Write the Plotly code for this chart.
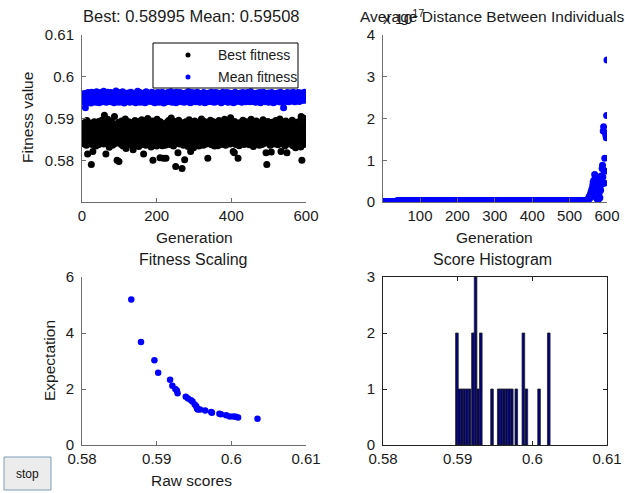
import plotly.graph_objects as go

W, H = 625, 493
FONT = "Liberation Sans, Arial, sans-serif"
TXT = "#1a1a1a"
AX = "#6e6e6e"

# ---------------- data ----------------
generations = list(range(1, 601))

# best fitness per generation (x 1e-4)
best_fitness_e4 = [
 5885,5862,5848,5871,5839,5856,5890,5843,5867,5878,5851,5836,5895,5860,5815,5874,5846,5883,5858,5869,
 5841,5889,5853,5877,5790,5866,5838,5881,5821,5857,5870,5845,5892,5863,5849,5876,5834,5887,5859,5872,
 5847,5880,5865,5837,5893,5855,5868,5842,5884,5861,5875,5850,5896,5844,5873,5858,5882,5839,5866,5908,
 5854,5879,5843,5815,5870,5886,5852,5863,5898,5840,5874,5857,5831,5889,5866,5848,5877,5860,5893,5845,
 5869,5836,5882,5855,5871,5849,5905,5862,5840,5878,5853,5887,5866,5800,5844,5875,5859,5891,5797,5868,
 5846,5883,5857,5872,5838,5894,5861,5850,5880,5834,5867,5888,5853,5876,5843,5899,5863,5828,5873,5856,
 5885,5847,5870,5839,5892,5860,5876,5851,5883,5837,5866,5890,5854,5879,5842,5869,5825,5886,5858,5874,
 5848,5895,5862,5835,5880,5856,5871,5844,5887,5859,5877,5833,5868,5893,5850,5882,5841,5875,5863,5897,
 5852,5870,5838,5884,5815,5866,5891,5846,5878,5857,5836,5889,5861,5873,5843,5900,5855,5881,5849,5868,
 5877,5840,5886,5859,5832,5872,5853,5894,5845,5800,5864,5880,5837,5869,5851,5888,5843,5876,5862,5834,
 5898,5855,5871,5847,5883,5860,5839,5875,5806,5892,5852,5867,5844,5885,5835,5878,5857,5805,5870,5849,
 5887,5863,5836,5874,5805,5890,5852,5868,5841,5881,5859,5895,5846,5872,5838,5884,5854,5866,5901,5843,
 5877,5850,5888,5862,5834,5870,5856,5893,5845,5879,5785,5860,5840,5886,5853,5873,5818,5864,5896,5848,
 5871,5839,5883,5857,5867,5843,5890,5780,5876,5852,5885,5836,5862,5878,5801,5869,5846,5892,5855,5874,
 5841,5887,5860,5833,5880,5851,5897,5866,5844,5875,5821,5858,5889,5837,5871,5848,5884,5863,5830,5877,
 5853,5894,5842,5868,5885,5838,5873,5856,5891,5847,5879,5861,5834,5888,5850,5870,5843,5882,5865,5899,
 5846,5874,5857,5887,5836,5869,5852,5893,5841,5878,5862,5883,5839,5871,5855,5890,5805,5866,5848,5876,
 5886,5843,5863,5896,5851,5873,5837,5881,5858,5868,5845,5892,5860,5877,5834,5884,5854,5870,5840,5889,
 5865,5849,5880,5835,5874,5857,5895,5843,5869,5852,5886,5861,5838,5878,5847,5891,5859,5872,5842,5883,
 5856,5898,5845,5867,5836,5881,5853,5875,5864,5890,5841,5870,5849,5887,5858,5873,5839,5902,5855,5868,
 5844,5879,5861,5885,5821,5851,5876,5818,5893,5847,5866,5838,5882,5857,5871,5843,5888,5805,5862,5874,
 5835,5890,5854,5869,5847,5884,5860,5841,5877,5856,5896,5849,5872,5838,5886,5863,5851,5880,5845,5868,
 5892,5857,5874,5840,5883,5852,5866,5837,5889,5861,5876,5848,5898,5855,5870,5843,5885,5859,5833,5879,
 5850,5887,5864,5842,5873,5856,5894,5839,5881,5862,5847,5875,5853,5890,5836,5868,5858,5884,5844,5871,
 5865,5838,5882,5854,5897,5846,5877,5860,5888,5841,5869,5852,5818,5885,5790,5874,5857,5893,5843,5866,
 5880,5849,5871,5836,5886,5858,5820,5875,5845,5891,5862,5853,5878,5839,5884,5856,5869,5842,5895,5861,
 5848,5876,5855,5889,5837,5870,5863,5883,5844,5899,5852,5867,5821,5879,5858,5892,5841,5873,5857,5886,
 5845,5868,5834,5881,5860,5894,5849,5874,5818,5863,5887,5851,5877,5839,5890,5856,5870,5843,5884,5862,
 5876,5847,5896,5858,5835,5882,5867,5853,5888,5844,5873,5830,5861,5891,5850,5879,5838,5885,5857,5868,
 5842,5893,5864,5848,5878,5832,5905,5855,5800,5871,5902,5845,5883,5860,5838,5869,5852,5887,5899,5899.5,
]

# mean fitness per generation (x 1e-4)
mean_fitness_e4 = [
 5951,5944,5957,5939,5948,5960,5943,5953,5926,5947,5955,5941,5958,5949,5945,5962,5938,5952,5946,5956,
 5942,5959,5950,5937,5954,5963,5945,5948,5957,5940,5953,5946,5961,5943,5951,5956,5939,5949,5964,5944,
 5955,5947,5941,5960,5952,5938,5957,5945,5950,5962,5943,5954,5948,5959,5940,5953,5946,5965,5942,5951,
 5957,5944,5949,5961,5939,5955,5947,5952,5963,5941,5950,5958,5945,5943,5956,5948,5962,5940,5953,5946,
 5959,5942,5951,5944,5960,5938,5954,5949,5957,5945,5966,5941,5952,5947,5955,5943,5961,5950,5939,5956,
 5948,5962,5944,5953,5940,5958,5946,5951,5964,5942,5955,5949,5937,5957,5945,5952,5960,5943,5950,5956,
 5941,5954,5947,5961,5944,5950,5958,5939,5953,5946,5963,5942,5955,5948,5957,5940,5952,5945,5959,5949,
 5944,5956,5951,5938,5960,5947,5953,5943,5965,5950,5941,5957,5946,5954,5962,5939,5949,5955,5945,5958,
 5952,5940,5959,5947,5954,5943,5961,5950,5938,5956,5945,5964,5948,5953,5941,5957,5951,5944,5960,5946,
 5955,5949,5942,5958,5945,5952,5963,5940,5954,5947,5959,5943,5951,5956,5938,5950,5961,5946,5953,5944,
 5957,5941,5950,5962,5947,5954,5939,5956,5944,5951,5960,5945,5953,5948,5963,5942,5955,5949,5937,5958,
 5946,5953,5960,5943,5950,5957,5940,5955,5948,5962,5944,5952,5959,5941,5956,5947,5954,5964,5945,5951,
 5939,5958,5949,5955,5942,5961,5947,5953,5944,5957,5950,5938,5963,5946,5952,5943,5959,5948,5955,5941,
 5954,5947,5962,5944,5951,5958,5940,5956,5949,5943,5960,5946,5953,5939,5957,5950,5945,5961,5942,5955,
 5948,5959,5943,5952,5964,5941,5956,5947,5954,5938,5958,5950,5945,5962,5944,5953,5940,5957,5949,5946,
 5961,5944,5955,5948,5940,5957,5952,5946,5963,5942,5951,5959,5945,5954,5939,5956,5949,5960,5943,5953,
 5947,5958,5941,5955,5950,5962,5944,5952,5938,5957,5946,5953,5960,5943,5949,5956,5940,5954,5948,5961,
 5945,5951,5959,5942,5956,5948,5963,5940,5953,5946,5958,5944,5950,5957,5939,5955,5947,5962,5943,5952,
 5958,5943,5950,5961,5946,5954,5941,5957,5949,5944,5960,5952,5938,5956,5947,5953,5963,5942,5951,5945,
 5950,5956,5944,5959,5941,5952,5947,5962,5945,5955,5939,5958,5949,5943,5961,5946,5954,5940,5957,5948,
 5943,5960,5952,5946,5955,5938,5958,5949,5944,5963,5951,5941,5956,5947,5953,5959,5942,5950,5957,5945,
 5956,5948,5941,5961,5950,5945,5957,5939,5954,5947,5962,5943,5952,5958,5944,5951,5960,5946,5940,5955,
 5949,5954,5962,5942,5957,5946,5951,5959,5940,5953,5948,5964,5944,5956,5950,5941,5958,5947,5955,5943,
 5960,5945,5953,5948,5939,5957,5950,5943,5961,5946,5954,5941,5958,5949,5944,5962,5952,5938,5956,5947,
 5951,5958,5942,5955,5947,5963,5944,5952,5949,5957,5940,5954,5946,5960,5943,5950,5956,5945,5961,5939,
 5954,5946,5959,5943,5951,5956,5941,5962,5948,5953,5945,5958,5938,5955,5950,5944,5960,5947,5952,5957,
 5942,5955,5949,5961,5946,5952,5958,5940,5956,5944,5951,5963,5947,5954,5939,5957,5950,5945,5959,5926,
 5953,5947,5960,5944,5956,5950,5941,5958,5946,5962,5943,5952,5957,5940,5955,5948,5961,5945,5951,5956,
 5946,5959,5942,5954,5949,5963,5944,5951,5957,5940,5955,5948,5960,5943,5952,5958,5945,5950,5962,5947,
 5955,5941,5958,5950,5945,5961,5948,5953,5943,5960,5952,5946,5957,5949,5954,5963,5944,5956,5959,5950.8,
]

# average distance between individuals (units of 1e17)
dist_gen1_38 = 0.0          # value held over generations 1..38
dist_gen39_545 = 0.03       # value held over generations 39..545
dist_tail_546_600 = [
 0.02,0.04,0.03,0.06,0.05,0.09,0.12,0.08,0.15,0.11,
 0.20,0.14,0.26,0.18,0.32,0.22,0.40,0.48,0.30,0.52,
 0.25,0.66,0.38,0.55,0.44,0.12,0.28,0.08,0.35,0.18,
 0.05,0.30,0.45,0.22,0.38,0.10,0.48,0.28,0.62,0.42,
 0.55,0.80,0.88,0.60,1.70,1.80,0.75,0.45,1.05,0.74,
 1.65,1.60,1.54,2.07,3.40,
]
avg_distance = [dist_gen1_38] * 38 + [dist_gen39_545] * (545 - 38) + dist_tail_546_600

# fitness scaling: raw score vs expectation
raw_scores = [0.5866,0.5879,0.5897,0.5902,0.5918,0.5921,0.5925,0.5927,0.5928,0.5939,0.5942,
              0.5946,0.5948,0.5951,0.5953,0.5954,0.5955,0.5958,0.5965,0.5973,0.5974,0.5984,
              0.5986,0.5993,0.5998,0.6003,0.6006,0.6009,0.6035]
expectation = [5.20,3.68,3.03,2.58,2.33,2.12,2.00,1.95,1.85,1.72,1.66,
               1.60,1.55,1.45,1.38,1.30,1.27,1.27,1.23,1.18,1.15,1.12,
               1.10,1.06,1.02,1.02,1.01,0.98,0.94]

# score histogram (bin centres and counts)
hist_centres = [0.58990,0.59020,0.59055,0.59090,0.59125,0.59160,0.59205,0.59240,0.59275,0.59310,
                0.59460,0.59550,0.59585,0.59620,0.59655,0.59690,0.59725,0.59785,0.59880,0.59920,
                0.60090,0.60220]
hist_counts = [2,1,1,1,1,1,2,3,1,2,
               1,1,1,1,1,1,1,1,2,1,
               1,2]
hist_bin_width = 0.00035

best_title = "Best: 0.58995 Mean: 0.59508"

# ---------------- figure ----------------
def px(v):  # horizontal pixel -> paper
    return v / W
def py(v):  # vertical pixel (from top) -> paper
    return 1 - v / H

fig = go.Figure()

fig.add_trace(go.Scatter(x=generations, y=[v / 1e4 for v in best_fitness_e4], mode="markers",
                         marker=dict(color="black", size=7), name="Best fitness",
                         xaxis="x", yaxis="y"))
fig.add_trace(go.Scatter(x=generations, y=[v / 1e4 for v in mean_fitness_e4], mode="markers",
                         marker=dict(color="#0000ff", size=7), name="Mean fitness",
                         xaxis="x", yaxis="y"))
fig.add_trace(go.Scatter(x=generations, y=avg_distance, mode="markers",
                         marker=dict(color="#0000ff", size=7),
                         xaxis="x2", yaxis="y2"))
fig.add_trace(go.Scatter(x=raw_scores, y=expectation, mode="markers",
                         marker=dict(color="#0000ff", size=6.5),
                         xaxis="x3", yaxis="y3"))
fig.add_trace(go.Bar(x=hist_centres, y=hist_counts, width=hist_bin_width,
                     marker=dict(color="#00007a", line=dict(color="#222222", width=0.8)),
                     xaxis="x4", yaxis="y4"))

tickfont = dict(family=FONT, size=15, color=TXT)
common = dict(showgrid=False, zeroline=False, ticks="inside", ticklen=4, tickcolor=AX,
              showline=True, linecolor=AX, linewidth=1, tickfont=tickfont, fixedrange=True,
              automargin=False)

L = [82, 306]
R = [383, 607]
TOP = [35, 202]
BOT = [277, 445]

layout = dict(
    width=W, height=H, margin=dict(l=0, r=0, t=0, b=0, autoexpand=False),
    paper_bgcolor="white", plot_bgcolor="white", showlegend=False,
    font=dict(family=FONT, size=14, color=TXT),
    xaxis=dict(domain=[px(L[0]), px(L[1])], anchor="y", range=[0, 600],
               tickvals=[0, 200, 400, 600], **common),
    yaxis=dict(domain=[py(TOP[1]), py(TOP[0])], anchor="x", range=[0.57, 0.61],
               tickvals=[0.58, 0.59, 0.60, 0.61], ticktext=["0.58", "0.59", "0.6", "0.61"],
               ticklabelstandoff=4, **common),
    xaxis2=dict(domain=[px(R[0]), px(R[1])], anchor="y2", range=[1, 600],
                tickvals=[100, 200, 300, 400, 500, 600], **common),
    yaxis2=dict(domain=[py(TOP[1]), py(TOP[0])], anchor="x2", range=[0, 4],
                tickvals=[0, 1, 2, 3, 4], ticklabelstandoff=4, **common),
    xaxis3=dict(domain=[px(L[0]), px(L[1])], anchor="y3", range=[0.58, 0.61],
                tickvals=[0.58, 0.59, 0.60, 0.61], ticktext=["0.58", "0.59", "0.6", "0.61"], **common),
    yaxis3=dict(domain=[py(BOT[1]), py(BOT[0])], anchor="x3", range=[0, 6],
                tickvals=[0, 2, 4, 6], ticklabelstandoff=4, **common),
    xaxis4=dict(domain=[px(R[0]), px(R[1])], anchor="y4", range=[0.58, 0.61], mirror="ticks",
                tickvals=[0.58, 0.59, 0.60, 0.61], ticktext=["0.58", "0.59", "0.6", "0.61"],
                **{**common, "linecolor": "#222", "tickcolor": "#222"}),
    yaxis4=dict(domain=[py(BOT[1]), py(BOT[0])], anchor="x4", range=[0, 3], mirror="ticks",
                tickvals=[0, 1, 2, 3], ticklabelstandoff=4,
                **{**common, "linecolor": "#222", "tickcolor": "#222"}),
)
fig.update_layout(**layout)

def text(s, x, y, size=15.5, **kw):
    d = dict(text=s, x=px(x), y=py(y), xref="paper", yref="paper", showarrow=False,
             font=dict(family=FONT, size=size, color=TXT), xanchor="center", yanchor="middle")
    d.update(kw)
    fig.add_annotation(**d)

# titles
text(best_title, 192, 16, size=16.5)
text("Average Distance Between Individuals", 492, 16, size=15.5)
text("x 10<sup>17</sup>", 381, 17, xanchor="left")
text("Fitness Scaling", 193, 259, size=16)
text("Score Histogram", 492, 259, size=16)
# axis labels
text("Generation", 194, 237)
text("Generation", 494, 237)
text("Fitness value", 28, 118, textangle=-90)
text("Expectation", 49, 361, textangle=-90)
text("Raw scores", 192, 480)

# legend box (drawn on top, white fill)
fig.add_shape(type="rect", xref="paper", yref="paper", x0=px(153), x1=px(298), y0=py(88), y1=py(43),
              line=dict(color="black", width=1), fillcolor="white", layer="above")
fig.add_shape(type="circle", xref="paper", yref="paper", x0=px(185.5), x1=px(190.5), y0=py(57.5), y1=py(52.5),
              line=dict(color="black", width=0), fillcolor="black", layer="above")
fig.add_shape(type="circle", xref="paper", yref="paper", x0=px(185.5), x1=px(190.5), y0=py(79.5), y1=py(74.5),
              line=dict(color="#0000ff", width=0), fillcolor="#0000ff", layer="above")
text("Best fitness", 216, 55, size=14, xanchor="left")
text("Mean fitness", 216, 77, size=14, xanchor="left")

# stop button
fig.add_shape(type="rect", xref="paper", yref="paper", x0=px(4), x1=px(51), y0=py(490), y1=py(457),
              line=dict(color="#7f9db9", width=1), fillcolor="#ececec", layer="above")
text("stop", 27.5, 474, size=12, font=dict(family=FONT, size=12, color="#111"))

fig.write_html("out.html", config={"displayModeBar": False},
               post_script="document.body.style.margin='0';document.body.style.overflow='hidden';")
